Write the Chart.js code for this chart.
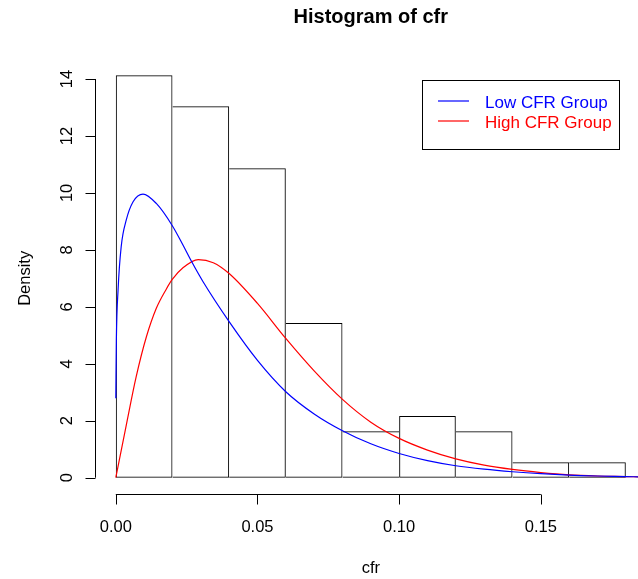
<!DOCTYPE html>
<html>
<head>
<meta charset="utf-8">
<script src="https://cdn.jsdelivr.net/npm/chart.js@4/dist/chart.umd.min.js"></script>
<style>
  html, body { margin: 0; padding: 0; background: #fff; }
  #wrap { width: 638px; height: 579px; position: relative; }
</style>
</head>
<body>
<div id="wrap"><canvas id="hist"></canvas></div>
<script>
// histogram bins (width 0.02) and densities
let BIN_MID = [0.01, 0.03, 0.05, 0.07, 0.09, 0.11, 0.13, 0.15, 0.17];
let DENSITY = [14.13, 13.04, 10.87, 5.43, 1.63, 2.17, 1.63, 0.54, 0.54];

// fitted curves
let LOW_X = [0, 0.0002, 0.0008, 0.0019, 0.0037, 0.0061, 0.0096, 0.0143, 0.02, 0.0237, 0.0268, 0.0308,
  0.04, 0.05, 0.06, 0.07, 0.08, 0.09, 0.10, 0.11, 0.12, 0.13, 0.14, 0.15, 0.16, 0.17, 0.18, 0.1843];
let LOW_Y = [2.79, 4.83, 6.59, 8.11, 9.05, 9.69, 9.96, 9.63, 8.84, 8.17, 7.58, 6.88,
  5.48, 4.12, 3.02, 2.24, 1.65, 1.19, 0.85, 0.60, 0.42, 0.30, 0.21, 0.14, 0.09, 0.06, 0.04, 0.03];
let HIGH_X = [0, 0.0037, 0.0072, 0.0108, 0.0143, 0.0178, 0.02, 0.0237, 0.0291, 0.0344, 0.04, 0.05, 0.06,
  0.07, 0.08, 0.09, 0.10, 0.11, 0.12, 0.13, 0.14, 0.15, 0.16, 0.17, 0.18, 0.1843];
let HIGH_Y = [0, 1.85, 3.55, 4.95, 5.95, 6.62, 6.97, 7.37, 7.66, 7.55, 7.17, 6.12, 4.89,
  3.75, 2.75, 1.95, 1.38, 0.97, 0.66, 0.44, 0.29, 0.18, 0.10, 0.06, 0.04, 0.03];

let X_TICKS = [0, 0.05, 0.10, 0.15];
let Y_TICKS = [0, 2, 4, 6, 8, 10, 12, 14];
let SERIES = ["Low CFR Group", "High CFR Group"];
let SERIES_COLORS = ["#0000ff", "#ff0000"];

const FONT = '"Liberation Sans", Arial, Helvetica, sans-serif';

function pts(xs, ys) { return xs.map((x, i) => ({ x: x, y: ys[i] })); }

// shared bar edges are drawn only once (by the taller neighbour), like R's rect()
function barBorder(ctx) {
  const i = ctx.dataIndex;
  const h = DENSITY[i];
  const prev = i > 0 ? DENSITY[i - 1] : -1;
  const next = i < DENSITY.length - 1 ? DENSITY[i + 1] : -1;
  return { top: 1, bottom: 1, left: prev >= h ? 0 : 1, right: next > h ? 0 : 1 };
}

// R-style axes, titles and legend
const rBase = {
  id: 'rBase',
  afterDraw(chart) {
    const ctx = chart.ctx;
    const xs = chart.scales.x, ys = chart.scales.y;
    ctx.save();
    ctx.strokeStyle = '#000';
    ctx.fillStyle = '#000';
    ctx.lineWidth = 1;

    // x axis
    const ax = 494.5;
    ctx.beginPath();
    ctx.moveTo(xs.getPixelForValue(X_TICKS[0]), ax);
    ctx.lineTo(xs.getPixelForValue(X_TICKS[X_TICKS.length - 1]), ax);
    X_TICKS.forEach(t => {
      const p = Math.round(xs.getPixelForValue(t)) + 0.5;
      ctx.moveTo(p, ax);
      ctx.lineTo(p, ax + 10);
    });
    ctx.stroke();
    ctx.font = '16.5px ' + FONT;
    ctx.textAlign = 'center';
    ctx.textBaseline = 'alphabetic';
    X_TICKS.forEach(t => ctx.fillText(t.toFixed(2), xs.getPixelForValue(t), 531.5));

    // y axis
    const ay = 95.5;
    ctx.beginPath();
    ctx.moveTo(ay, ys.getPixelForValue(Y_TICKS[0]));
    ctx.lineTo(ay, ys.getPixelForValue(Y_TICKS[Y_TICKS.length - 1]));
    Y_TICKS.forEach(t => {
      const p = Math.round(ys.getPixelForValue(t)) + 0.5;
      ctx.moveTo(ay, p);
      ctx.lineTo(ay - 10, p);
    });
    ctx.stroke();
    Y_TICKS.forEach(t => {
      ctx.save();
      ctx.translate(71.5, ys.getPixelForValue(t));
      ctx.rotate(-Math.PI / 2);
      ctx.fillText(String(t), 0, 0);
      ctx.restore();
    });

    // titles
    const midX = xs.getPixelForValue(0.09);
    ctx.font = 'bold 20px ' + FONT;
    ctx.fillText('Histogram of cfr', midX, 22.7);
    ctx.font = '16.5px ' + FONT;
    ctx.fillText('cfr', midX, 573);
    ctx.save();
    ctx.translate(29.5, ys.getPixelForValue(7));
    ctx.rotate(-Math.PI / 2);
    ctx.fillText('Density', 0, 0);
    ctx.restore();

    // legend
    ctx.strokeStyle = '#000';
    ctx.strokeRect(422.5, 80.5, 197, 69);
    ctx.font = '17px ' + FONT;
    ctx.textAlign = 'left';
    ctx.lineWidth = 1.2;
    SERIES.forEach((s, i) => {
      const y = 101 + i * 20;
      ctx.strokeStyle = SERIES_COLORS[i];
      ctx.beginPath();
      ctx.moveTo(438, y);
      ctx.lineTo(469, y);
      ctx.stroke();
      ctx.fillStyle = SERIES_COLORS[i];
      ctx.fillText(s, 485, y + 6.5);
    });
    ctx.restore();
  }
};

new Chart(document.getElementById('hist'), {
  type: 'bar',
  data: {
    datasets: [{
      type: 'line',
      label: SERIES[0],
      data: pts(LOW_X, LOW_Y),
      borderColor: SERIES_COLORS[0],
      borderWidth: 1.2,
      pointRadius: 0,
      cubicInterpolationMode: 'monotone',
      order: 1
    }, {
      type: 'line',
      label: SERIES[1],
      data: pts(HIGH_X, HIGH_Y),
      borderColor: SERIES_COLORS[1],
      borderWidth: 1.2,
      pointRadius: 0,
      cubicInterpolationMode: 'monotone',
      order: 2
    }, {
      type: 'bar',
      label: 'cfr',
      data: pts(BIN_MID, DENSITY),
      backgroundColor: 'rgba(255,255,255,0)',
      borderColor: '#000',
      borderWidth: barBorder,
      borderSkipped: false,
      inflateAmount: 0,
      barPercentage: 1,
      categoryPercentage: 1,
      order: 3
    }]
  },
  options: {
    responsive: true,
    maintainAspectRatio: false,
    animation: false,
    layout: { padding: { left: 95.4, right: 0, top: 59.2, bottom: 85.2 } },
    plugins: { legend: { display: false }, tooltip: { enabled: false }, title: { display: false } },
    scales: {
      x: { type: 'linear', min: -0.0072, max: 0.1843, offset: false, display: false },
      y: { type: 'linear', min: -0.565, max: 14.695, display: false }
    }
  },
  plugins: [rBase]
});
</script>
</body>
</html>
